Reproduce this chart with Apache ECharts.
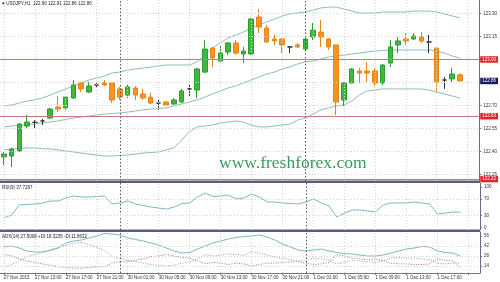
<!DOCTYPE html>
<html><head><meta charset="utf-8">
<script src="https://cdn.jsdelivr.net/npm/echarts@6/dist/echarts.min.js"></script>
<style>html,body{margin:0;padding:0;background:#fff;overflow:hidden}#c{width:500px;height:282px}</style>
</head><body><div id="c"></div>
<script>
// ---------- data ----------
const symbolTitle = 'USDJPY,H1';
const opens  = [122.364,122.370,122.403,122.566,122.590,122.599,122.618,122.690,122.684,122.749,122.847,122.788,122.834,122.847,122.847,122.808,122.768,122.814,122.775,122.755,122.716,122.723,122.710,122.723,122.808,122.801,122.918,123.075,122.990,123.049,123.108,123.036,123.036,123.277,123.205,123.134,123.134,123.082,123.095,123.068,123.147,123.179,123.134,123.095,122.736,122.847,122.925,122.925,122.925,122.847,122.977,123.095,123.134,123.134,123.147,123.114,123.075,122.866,122.873,122.90];
const closes = [122.384,122.416,122.579,122.592,122.590,122.599,122.677,122.677,122.755,122.834,122.808,122.827,122.834,122.834,122.736,122.755,122.821,122.768,122.749,122.716,122.716,122.703,122.736,122.795,122.808,122.938,123.068,123.010,123.042,123.108,123.042,123.055,123.264,123.212,123.114,123.121,123.095,123.082,123.082,123.134,123.192,123.147,123.082,122.723,122.847,122.938,122.912,122.912,122.847,122.964,123.082,123.121,123.121,123.153,123.121,123.114,122.853,122.866,122.905,122.86];
const lows   = [122.312,122.299,122.397,122.553,122.553,122.573,122.612,122.658,122.671,122.742,122.788,122.781,122.814,122.827,122.716,122.736,122.749,122.736,122.736,122.710,122.671,122.697,122.703,122.716,122.755,122.749,122.912,122.951,122.984,123.029,123.029,122.977,123.029,123.173,123.108,123.095,123.042,123.042,123.075,123.062,123.127,123.082,123.062,122.638,122.697,122.843,122.847,122.853,122.827,122.834,122.951,123.042,123.095,123.127,123.108,123.042,122.788,122.808,122.853,122.86];
const highs  = [122.397,122.423,122.586,122.638,122.605,122.612,122.684,122.762,122.762,122.866,122.853,122.853,122.847,122.866,122.853,122.821,122.834,122.827,122.808,122.781,122.736,122.729,122.749,122.808,122.834,122.945,123.127,123.082,123.095,123.114,123.127,123.082,123.271,123.329,123.225,123.160,123.140,123.088,123.108,123.140,123.238,123.258,123.140,123.095,122.853,122.945,122.945,122.984,122.945,122.971,123.127,123.147,123.173,123.173,123.179,123.160,123.075,122.886,122.945,122.91];
const bbUpper = [122.697,122.703,122.716,122.729,122.736,122.749,122.768,122.788,122.808,122.827,122.847,122.866,122.879,122.892,122.912,122.918,122.931,122.938,122.944,122.951,122.958,122.964,122.964,122.964,122.964,122.984,123.029,123.075,123.108,123.140,123.160,123.179,123.206,123.225,123.245,123.264,123.284,123.297,123.303,123.310,123.323,123.336,123.342,123.342,123.329,123.316,123.303,123.303,123.303,123.310,123.310,123.310,123.310,123.316,123.316,123.316,123.310,123.297,123.284,123.271];
const bbMiddle = [122.560,122.566,122.573,122.576,122.579,122.586,122.592,122.599,122.609,122.618,122.625,122.631,122.638,122.644,122.648,122.651,122.657,122.664,122.671,122.677,122.680,122.684,122.697,122.710,122.723,122.736,122.755,122.775,122.795,122.814,122.827,122.847,122.866,122.886,122.905,122.918,122.938,122.951,122.971,122.984,122.990,123.003,123.016,123.023,123.029,123.036,123.042,123.049,123.055,123.059,123.062,123.062,123.062,123.062,123.062,123.062,123.055,123.042,123.023,123.010];
const bbLower = [122.410,122.416,122.419,122.423,122.423,122.419,122.416,122.410,122.403,122.397,122.390,122.383,122.377,122.370,122.370,122.374,122.377,122.383,122.390,122.393,122.397,122.410,122.423,122.475,122.527,122.560,122.566,122.573,122.586,122.592,122.599,122.592,122.573,122.560,122.560,122.566,122.573,122.579,122.605,122.618,122.644,122.671,122.684,122.697,122.703,122.729,122.768,122.795,122.801,122.808,122.808,122.808,122.808,122.808,122.808,122.801,122.788,122.775,122.762,122.749];
const rsi = [23.5,30.9,55.6,56.8,58.0,60.5,65.4,65.4,72.8,77.8,75.3,75.3,76.5,77.8,58.0,60.5,65.4,58.0,54.3,50.6,48.1,45.7,50.6,59.3,60.5,75.3,85.2,76.5,77.8,80.2,70.4,72.8,82.7,75.3,63.0,63.0,60.5,59.3,58.0,63.0,70.4,60.5,53.1,25.9,35.8,43.2,43.2,40.7,38.3,55.6,60.5,60.5,60.5,63.0,60.5,58.0,33.3,35.8,38.3,37.7287];
const adx = [40.6,42.0,39.2,35.0,33.6,33.6,35.7,39.2,46.2,49.0,50.4,53.2,56.0,59.5,58.8,57.4,53.2,51.1,49.0,46.2,43.4,39.2,35.0,32.2,32.9,37.8,42.0,46.2,49.0,51.8,53.9,55.3,56.0,57.4,54.6,50.4,44.8,40.6,36.4,35.0,36.4,37.8,35.0,32.9,31.5,30.8,29.4,28.0,28.0,29.4,32.2,35.0,37.8,39.2,41.3,40.6,35.0,32.9,32.2,27.5008];
const plusDI = [13,16,22,27,30,33,37,40,43,46,47,44,40,36,28,24,22,20,18,16,15,14,15,18,20,24,30,28,29,31,30,29,34,32,29,27,25,23,21,22,25,24,22,17,19,22,21,20,19,22,25,26,25,25,24,23,18,17,18,18.3235];
const minusDI = [30,28,24,21,19,17,15,13,12,11,11,12,13,13,18,20,20,22,24,27,28,30,28,26,25,21,17,19,18,16,18,17,14,16,18,18,19,20,20,18,16,17,19,30,28,25,24,23,24,21,18,17,17,16,16,17,24,22,21,11.8632];
const xTickLabels = ['27 Nov 2015','27 Nov 13:00','27 Nov 17:00','27 Nov 21:00','30 Nov 01:00','30 Nov 05:00','30 Nov 09:00','30 Nov 13:00','30 Nov 17:00','30 Nov 21:00','1 Dec 01:00','1 Dec 05:00','1 Dec 09:00','1 Dec 13:00','1 Dec 17:00'];
const priceTicks = [123.30,123.15,123.00,122.85,122.70,122.55,122.40,122.25];
const priceTickLabels = [123.30,123.15,122.70,122.55,122.40,122.25];
const levelLines = [123.00,122.63,122.22];
const rsiTicks = [100,70,30,0];
const rsiGrid = [70,30];
const adxTicks = [56,42,28,14];
const adxGrid = [42,28,14];
const daySeparators = [15,39];      // bar index of 30 Nov 00:00 and 1 Dec 00:00
const labelStep = 4;
const rightShiftSlots = 2;

// ---------- build ----------
const n = opens.length;
const cats = [];
for (let i = 0; i < n + rightShiftSlots; i++) cats.push(String(i));
const ohlc = opens.map((o, i) => [o, closes[i], lows[i], highs[i]]);
const lastIdx = n - 1;
const lastPrice = closes[lastIdx];
const vgrid = [];
for (let i = 0; i < n + rightShiftSlots; i += labelStep) vgrid.push(i);

const FONT = 'Liberation Sans';
const gridLineStyle = {color: '#d4d4d4', type: [1, 2], width: 1};
const sepStyle = {color: '#555', type: [1.5, 2], width: 1};

function vLines() {
  return vgrid.map(i => ({xAxis: i, lineStyle: gridLineStyle}))
    .concat(daySeparators.map(i => ({xAxis: i, lineStyle: sepStyle})));
}
function hLines(vals) { return vals.map(v => ({yAxis: v, lineStyle: gridLineStyle})); }

const grids = [
  {left: -2.6, right: 20, top: 0, height: 181},
  {left: -2.6, right: 20, top: 183, height: 47},
  {left: -2.6, right: 20, top: 232, height: 41}
];
const xAxes = grids.map((g, gi) => ({
  type: 'category', gridIndex: gi, data: cats, boundaryGap: true,
  axisLine: {show: gi === 2, lineStyle: {color: '#777'}},
  axisTick: {show: gi === 2, interval: labelStep - 1, alignWithLabel: true, length: 2, lineStyle: {color: '#777'}},
  axisLabel: gi === 2 ? {
    show: true, interval: labelStep - 1, align: 'left', margin: 2, fontSize: 4.5, color: '#333', fontFamily: FONT,
    formatter: (v, idx) => xTickLabels[idx / labelStep] || ''
  } : {show: false},
  splitLine: {show: false}
}));
const axisLineStyle = {color: '#6a6a8a', width: 1};
const yAxes = [
  {type: 'value', gridIndex: 0, position: 'right', min: 122.2074, max: 123.3881, scale: true,
   axisLine: {show: true, lineStyle: axisLineStyle},
   axisTick: {show: true, length: 2, customValues: priceTicks, lineStyle: {color: '#777'}},
   axisLabel: {customValues: priceTickLabels, formatter: v => v.toFixed(2), fontSize: 4.5, margin: 4, color: '#333', fontFamily: FONT},
   splitLine: {show: false}},
  {type: 'value', gridIndex: 1, position: 'right', min: -6.2, max: 109.9,
   axisLine: {show: true, lineStyle: axisLineStyle},
   axisTick: {show: true, length: 2, customValues: rsiTicks, lineStyle: {color: '#777'}},
   axisLabel: {customValues: rsiTicks, fontSize: 4.5, margin: 4, color: '#333', fontFamily: FONT},
   splitLine: {show: false}},
  {type: 'value', gridIndex: 2, position: 'right', min: 4.2, max: 61.6,
   axisLine: {show: true, lineStyle: axisLineStyle},
   axisTick: {show: true, length: 2, customValues: adxTicks, lineStyle: {color: '#777'}},
   axisLabel: {customValues: adxTicks, fontSize: 4.5, margin: 4, color: '#333', fontFamily: FONT},
   splitLine: {show: false}}
];

const boxLabel = (bg) => ({show: true, position: 'end', distance: 1, formatter: p => p.value.toFixed(2),
  backgroundColor: bg, color: '#fff', fontSize: 4.5, fontFamily: FONT, padding: [1, 2, 0.5, 2]});

const bandStyle = {color: '#8dbfb0', width: 1};
const series = [
  {type: 'candlestick', xAxisIndex: 0, yAxisIndex: 0, data: ohlc, barWidth: 5, z: 3,
   itemStyle: {color: '#3dba3d', color0: '#f7941d', borderColor: '#2f9c2f', borderColor0: '#e2861a', borderColorDoji: '#333', borderWidth: 1},
   markLine: {silent: true, symbol: 'none', animation: false, label: {show: false},
     data: vLines().concat(hLines(priceTicks))}},
  {type: 'line', xAxisIndex: 0, yAxisIndex: 0, data: bbUpper, showSymbol: false, lineStyle: bandStyle, z: 2, animation: false},
  {type: 'line', xAxisIndex: 0, yAxisIndex: 0, data: bbMiddle, showSymbol: false, lineStyle: bandStyle, z: 2, animation: false},
  {type: 'line', xAxisIndex: 0, yAxisIndex: 0, data: bbLower, showSymbol: false, lineStyle: bandStyle, z: 2, animation: false,
   markLine: {silent: true, symbol: 'none', animation: false,
     data: levelLines.map(v => ({yAxis: v, lineStyle: {color: '#c87878', type: 'solid', width: 1}, label: boxLabel('#e0262d')}))
       .concat([{yAxis: lastPrice, lineStyle: {color: 'rgba(0,0,0,0)', width: 0}, label: boxLabel('#1a1a66')}])}},
  {type: 'line', xAxisIndex: 1, yAxisIndex: 1, data: rsi, showSymbol: false, lineStyle: {color: '#7db8c4', width: 1}, animation: false,
   markLine: {silent: true, symbol: 'none', animation: false, label: {show: false}, data: vLines().concat(hLines(rsiGrid))}},
  {type: 'line', xAxisIndex: 2, yAxisIndex: 2, data: adx, showSymbol: false, lineStyle: {color: '#7db8c4', width: 1}, animation: false,
   markLine: {silent: true, symbol: 'none', animation: false, label: {show: false}, data: vLines().concat(hLines(adxGrid))}},
  {type: 'line', xAxisIndex: 2, yAxisIndex: 2, data: plusDI, showSymbol: false, lineStyle: {color: '#8aa890', width: 1, type: [1, 1.5]}, animation: false},
  {type: 'line', xAxisIndex: 2, yAxisIndex: 2, data: minusDI, showSymbol: false, lineStyle: {color: '#c0705a', width: 1, type: [1, 1.5]}, animation: false}
];

const fmt = v => v.toFixed(2);
const titleText = '\u25BE ' + symbolTitle + '  ' + [opens[lastIdx], highs[lastIdx], lows[lastIdx], closes[lastIdx]].map(fmt).join(' ');
const rsiText = 'RSI(9) ' + rsi[lastIdx].toFixed(4);
const adxText = 'ADX(14) ' + adx[lastIdx].toFixed(4) + ' +DI:' + plusDI[lastIdx].toFixed(4) + ' -DI:' + minusDI[lastIdx].toFixed(4);

const chart = echarts.init(document.getElementById('c'), null, {renderer: 'canvas'});
chart.setOption({
  animation: false,
  backgroundColor: '#ffffff',
  grid: grids, xAxis: xAxes, yAxis: yAxes, series: series,
  title: [
    {text: titleText, left: 2, top: 1, padding: 0, textStyle: {fontSize: 4.5, fontWeight: 'normal', color: '#222', fontFamily: FONT}},
    {text: rsiText, left: 2, top: 185, padding: 0, textStyle: {fontSize: 4.5, fontWeight: 'normal', color: '#222', fontFamily: FONT}},
    {text: adxText, left: 2, top: 234, padding: 0, textStyle: {fontSize: 4.5, fontWeight: 'normal', color: '#222', fontFamily: FONT}}
  ],
  graphic: [
    {type: 'rect', left: 0, top: 180.5, shape: {width: 480, height: 2.5}, style: {fill: '#5c5c7c'}, silent: true},
    {type: 'rect', left: 0, top: 229.5, shape: {width: 480, height: 2.5}, style: {fill: '#5c5c7c'}, silent: true},
    {type: 'text', left: 219, top: 154, silent: true,
     style: {text: 'www.freshforex.com', font: '17.5px "Liberation Serif"', fill: '#3a9a5c'}}
  ]
});
</script></body></html>
